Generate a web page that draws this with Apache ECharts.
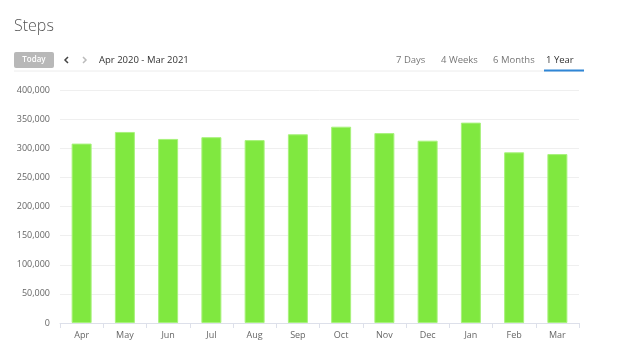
<html>
<head>
  <script src="https://cdn.jsdelivr.net/npm/echarts@6/dist/echarts.min.js"></script>
  <title>Steps</title>
</head>
<body style="margin: 0; overflow: hidden;">
  <div id="main" style="width: 624px; height: 351px;"></div>
  <script>
    var months = ['Apr', 'May', 'Jun', 'Jul', 'Aug', 'Sep', 'Oct', 'Nov', 'Dec', 'Jan', 'Feb', 'Mar'];
    var steps = [308000, 328000, 316000, 319000, 314000, 324000, 337000, 326000, 313000, 344000, 293000, 290000];
    var rangeTabs = ['7 Days', '4 Weeks', '6 Months', '1 Year'];
    var tabX = [396, 441, 493, 546];

    var font = '"Open Sans", sans-serif';
    var myChart = echarts.init(document.getElementById('main'));

    var graphics = [
      { type: 'text', left: 14, top: 14, style: { text: 'Steps', font: '300 16px ' + font, fill: '#555' } },
      { type: 'rect', shape: { x: 14, y: 52, width: 40, height: 16, r: 2 }, style: { fill: '#b8b8b8' } },
      { type: 'text', x: 34, y: 60, style: { text: 'Today', font: '600 8px ' + font, fill: '#fff', align: 'center', verticalAlign: 'middle' } },
      { type: 'polyline', shape: { points: [[68, 57], [65, 60], [68, 63]] }, style: { stroke: '#444', lineWidth: 1.5, fill: null } },
      { type: 'polyline', shape: { points: [[83, 57], [86, 60], [83, 63]] }, style: { stroke: '#bbb', lineWidth: 1.5, fill: null } },
      { type: 'text', x: 99, y: 60, style: { text: 'Apr 2020 - Mar 2021', font: '9.5px ' + font, fill: '#333', verticalAlign: 'middle' } },
      { type: 'line', shape: { x1: 14, y1: 71, x2: 584, y2: 71 }, style: { stroke: '#ececec', lineWidth: 1 } },
      { type: 'line', shape: { x1: 544, y1: 70.5, x2: 584, y2: 70.5 }, style: { stroke: '#2f86d6', lineWidth: 2 } }
    ];
    for (let i = 0; i < rangeTabs.length; ++i) {
      graphics.push({
        type: 'text', x: tabX[i], y: 60,
        style: { text: rangeTabs[i], font: '9.5px ' + font, fill: i == 3 ? '#333' : '#777', verticalAlign: 'middle' }
      });
    }

    var option = {
      animation: false,
      grid: { left: 60, right: 45, top: 90, bottom: 28, containLabel: false },
      xAxis: {
        type: 'category',
        data: months,
        axisLine: { lineStyle: { color: '#dde0ea', width: 1 } },
        axisTick: { show: true, length: 5, lineStyle: { color: '#dde0ea' } },
        axisLabel: { color: '#666', fontSize: 9, fontFamily: font, margin: 5 }
      },
      yAxis: {
        type: 'value',
        min: 0,
        max: 400000,
        interval: 50000,
        axisLine: { show: false },
        axisTick: { show: false },
        axisLabel: {
          color: '#666', fontSize: 9, fontFamily: font, margin: 10,
          formatter: function (v) { return v.toLocaleString('en-US'); }
        },
        splitLine: { lineStyle: { color: '#efefef', width: 1 } }
      },
      series: [{
        type: 'bar',
        data: steps,
        barWidth: 20,
        itemStyle: { color: '#80e840', borderColor: '#a8f27c', borderWidth: 1 }
      }],
      graphic: graphics
    };
    myChart.setOption(option);
  </script>
</body>
</html>
